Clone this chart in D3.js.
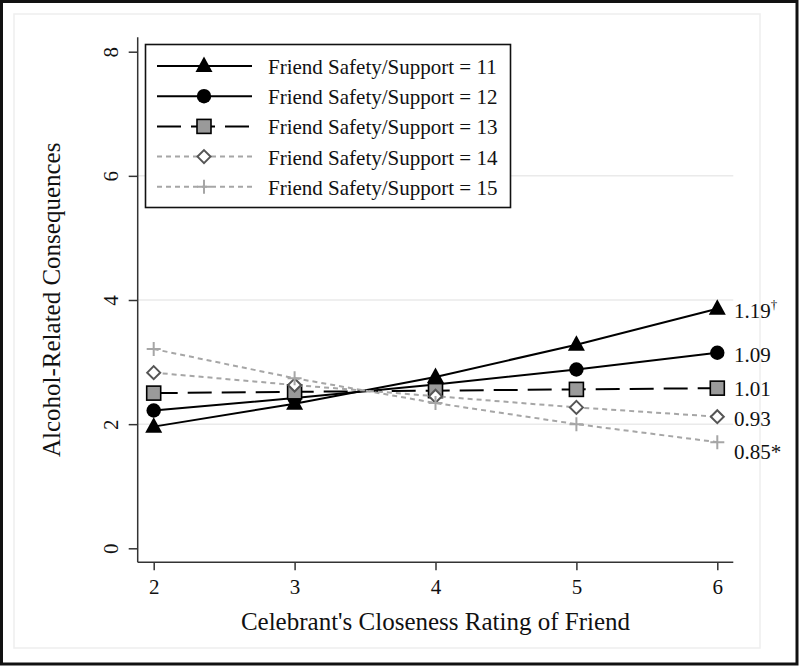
<!DOCTYPE html>
<html>
<head>
<meta charset="utf-8">
<script src="https://cdn.jsdelivr.net/npm/d3@7/dist/d3.min.js"></script>
<style>
  body { margin: 0; background: #fff; }
  svg, svg text { font-family: "Liberation Serif", "Times New Roman", serif; }
</style>
</head>
<body>
<svg></svg>
<script>
// data
const xValues = [2, 3, 4, 5, 6];
const yTicks = [0, 2, 4, 6, 8];
const gridTicks = [2, 4, 6];
const seriesNames = [
  "Friend Safety/Support = 11",
  "Friend Safety/Support = 12",
  "Friend Safety/Support = 13",
  "Friend Safety/Support = 14",
  "Friend Safety/Support = 15"
];
const support11 = [1.96, 2.33, 2.76, 3.28, 3.86];
const support12 = [2.22, 2.42, 2.64, 2.88, 3.15];
const support13 = [2.50, 2.52, 2.54, 2.56, 2.58];
const support14 = [2.83, 2.63, 2.45, 2.27, 2.12];
const support15 = [3.21, 2.74, 2.34, 2.00, 1.71];
const slopeLabels = ["1.19", "1.09", "1.01", "0.93", "0.85"];
const slopeMarks = ["\u2020", "", "", "", "*"];
const xTitle = "Celebrant's Closeness Rating of Friend";
const yTitle = "Alcohol-Related Consequences";

const W = 800, H = 666;
const serif = '"Liberation Serif", "Times New Roman", serif';
const svg = d3.select('svg').attr('width', W).attr('height', H);

const axisLeftX = 137.7, axisBottomY = 562.3, axisRightX = 733.3, axisTopY = 37.3;

const x = d3.scaleLinear().domain([2, 6]).range([153.7, 717.3]);
const y = d3.scaleLinear().domain([0, 8]).range([548.3, 51.7]);

// frames
svg.append('rect').attr('x', 14).attr('y', 14).attr('width', 746).attr('height', 634)
  .attr('fill', 'none').attr('stroke', '#eeeeee').attr('stroke-width', 1.5);
svg.append('rect').attr('x', 1.5).attr('y', 1.5).attr('width', 795.5).attr('height', 662.5)
  .attr('fill', 'none').attr('stroke', '#111').attr('stroke-width', 3);

// grid
svg.append('g').selectAll('line').data(gridTicks).join('line')
  .attr('x1', axisLeftX).attr('x2', axisRightX)
  .attr('y1', d => y(d)).attr('y2', d => y(d))
  .attr('stroke', '#eaeaea').attr('stroke-width', 1.5);

// axes
const xAxisG = svg.append('g').attr('transform', `translate(0,${axisBottomY})`)
  .call(d3.axisBottom(x).tickValues(xValues).tickSize(8).tickPadding(9).tickFormat(d3.format('d')));
xAxisG.attr('font-family', serif);
xAxisG.select('.domain').remove();
xAxisG.selectAll('line').attr('stroke', '#333').attr('stroke-width', 1.5);
xAxisG.selectAll('text').attr('font-size', 21).attr('fill', '#111').style('font-family', serif);

const yAxisG = svg.append('g').attr('transform', `translate(${axisLeftX},0)`)
  .call(d3.axisLeft(y).tickValues(yTicks).tickSize(9).tickFormat(d3.format('d')));
yAxisG.attr('font-family', serif);
yAxisG.select('.domain').remove();
yAxisG.selectAll('line').attr('stroke', '#333').attr('stroke-width', 1.5);
yAxisG.selectAll('text')
  .attr('x', 0).attr('y', -20).attr('dy', 0)
  .attr('transform', 'rotate(-90)')
  .attr('text-anchor', 'middle')
  .attr('font-size', 21).attr('fill', '#111').style('font-family', serif);

svg.append('line').attr('x1', axisLeftX).attr('x2', axisRightX)
  .attr('y1', axisBottomY).attr('y2', axisBottomY).attr('stroke', '#333').attr('stroke-width', 1.5);
svg.append('line').attr('x1', axisLeftX).attr('x2', axisLeftX)
  .attr('y1', axisTopY).attr('y2', axisBottomY).attr('stroke', '#333').attr('stroke-width', 1.5);

// titles
svg.append('text').attr('x', (axisLeftX + axisRightX) / 2).attr('y', 630)
  .attr('text-anchor', 'middle').attr('font-size', 25).attr('fill', '#111').text(xTitle);
svg.append('text').attr('transform', `translate(60,${(axisTopY + axisBottomY) / 2}) rotate(-90)`)
  .attr('text-anchor', 'middle').attr('font-size', 25).attr('fill', '#111').text(yTitle);

// series styles
const styles = [
  { stroke: '#000', dash: null, marker: 'triangle' },
  { stroke: '#000', dash: null, marker: 'circle' },
  { stroke: '#000', dash: '24,10', marker: 'square' },
  { stroke: '#a6a6a6', dash: '5,4', marker: 'diamond' },
  { stroke: '#a6a6a6', dash: '5,4', marker: 'plus' }
];
const allSeries = [support11, support12, support13, support14, support15];

function drawMarker(g, kind) {
  if (kind === 'triangle') {
    g.append('path').attr('d', 'M0,-9.5L8.5,6L-8.5,6Z').attr('fill', '#000');
  } else if (kind === 'circle') {
    g.append('circle').attr('r', 7.2).attr('fill', '#000');
  } else if (kind === 'square') {
    g.append('rect').attr('x', -7).attr('y', -7).attr('width', 14).attr('height', 14)
      .attr('fill', '#9a9a9a').attr('stroke', '#000').attr('stroke-width', 1.6);
  } else if (kind === 'diamond') {
    g.append('path').attr('d', 'M0,-6.5L6.5,0L0,6.5L-6.5,0Z')
      .attr('fill', '#fff').attr('stroke', '#555').attr('stroke-width', 2);
  } else {
    g.append('path').attr('d', 'M-7,0H7M0,-7V7')
      .attr('stroke', '#a6a6a6').attr('stroke-width', 2).attr('fill', 'none');
  }
}

const line = d3.line().x((d, i) => x(xValues[i])).y(d => y(d));
const plotG = svg.append('g');
allSeries.forEach((vals, k) => {
  const st = styles[k];
  plotG.append('path').attr('d', line(vals)).attr('fill', 'none')
    .attr('stroke', st.stroke).attr('stroke-width', 2)
    .attr('stroke-dasharray', st.dash);
  vals.forEach((v, i) => {
    drawMarker(plotG.append('g').attr('transform', `translate(${x(xValues[i])},${y(v)})`), st.marker);
  });
});

// slope labels at the right
const labelNudge = [2, 2, 1, 2, 10];
const lab = svg.append('g');
slopeLabels.forEach((s, k) => {
  const last = allSeries[k][allSeries[k].length - 1];
  const t = lab.append('text').attr('x', 734).attr('y', y(last) + labelNudge[k])
    .attr('dominant-baseline', 'central').attr('font-size', 21).attr('fill', '#111').text(s);
  if (slopeMarks[k] === '\u2020') {
    t.append('tspan').attr('font-size', 13).attr('dy', -7).text(slopeMarks[k]);
  } else if (slopeMarks[k]) {
    t.append('tspan').text(slopeMarks[k]);
  }
});

// legend
const legend = svg.append('g');
legend.append('rect').attr('x', 145.5).attr('y', 44.5).attr('width', 365).attr('height', 163)
  .attr('fill', '#fff').attr('stroke', '#111').attr('stroke-width', 1.6);
seriesNames.forEach((name, k) => {
  const st = styles[k];
  const ly = 66 + k * 30.2;
  const row = legend.append('g').attr('transform', `translate(0,${ly})`);
  row.append('line').attr('x1', 157).attr('x2', 252).attr('y1', 0).attr('y2', 0)
    .attr('stroke', st.stroke).attr('stroke-width', 2).attr('stroke-dasharray', st.dash);
  drawMarker(row.append('g').attr('transform', 'translate(204,0)'), st.marker);
  row.append('text').attr('x', 268).attr('y', 1).attr('dominant-baseline', 'central')
    .attr('font-size', 21).attr('fill', '#111').text(name);
});
</script>
</body>
</html>
